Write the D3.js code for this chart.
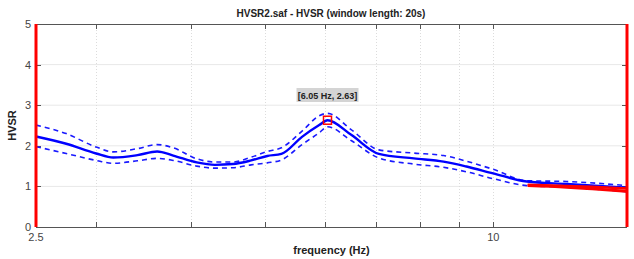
<!DOCTYPE html>
<html><head><meta charset="utf-8">
<script src="https://cdn.jsdelivr.net/npm/d3@7"></script>
<style>body{margin:0;background:#fff}svg{display:block}</style>
</head><body>
<script>
const freq  = [2.5, 2.74, 3.0, 3.16, 3.4, 3.61, 3.79, 4.07, 4.3, 4.54, 4.8, 5.04, 5.26, 5.6, 5.9, 6.05, 6.5, 7.07, 7.86, 8.6, 9.22, 10, 11.07, 12.49, 15];
const hvMean  = [2.23, 2.05, 1.81, 1.71, 1.77, 1.86, 1.76, 1.59, 1.53, 1.55, 1.64, 1.75, 1.80, 2.22, 2.51, 2.63, 2.27, 1.80, 1.69, 1.61, 1.49, 1.32, 1.12, 1.06, 0.97];
const hvUpper = [2.51, 2.30, 1.97, 1.85, 1.93, 2.03, 1.95, 1.68, 1.60, 1.60, 1.72, 1.86, 1.95, 2.36, 2.74, 2.80, 2.40, 1.90, 1.82, 1.76, 1.62, 1.42, 1.14, 1.12, 1.02];
const hvLower = [1.98, 1.81, 1.64, 1.57, 1.63, 1.69, 1.64, 1.50, 1.45, 1.46, 1.53, 1.58, 1.65, 2.03, 2.32, 2.47, 2.13, 1.70, 1.55, 1.47, 1.36, 1.19, 1.02, 0.98, 0.87];
const redFreq = [11.1, 12.5, 13.5, 15];
const redA = [1.02, 0.98, 0.94, 0.88];
const redB = [1.04, 1.01, 0.99, 0.95];
const peak = {f: 6.05, v: 2.63, label: "[6.05 Hz, 2.63]"};
const yTicks = [0, 1, 2, 3, 4, 5];
const xMinor = [3, 4, 5, 6, 7, 8, 9, 10];
const xLabels = [2.5, 10];
const title = "HVSR2.saf - HVSR (window length: 20s)";

const W = 634, H = 259;
const L = 36, R = 627, T = 24, B = 227;
const svg = d3.select("body").append("svg").attr("width", W).attr("height", H)
  .style("font-family", "'Liberation Sans', Arial, sans-serif");

const x = d3.scaleLog().domain([2.5, 15]).range([L, R]);
const y = d3.scaleLinear().domain([0, 5]).range([B, T]);

// grid
svg.append("g").selectAll("line").data([1,2,3,4]).join("line")
  .attr("x1", L).attr("x2", R).attr("y1", d => y(d)).attr("y2", d => y(d))
  .attr("stroke", "#e8e8e8").attr("stroke-width", 1);
svg.append("g").selectAll("line").data(xMinor).join("line")
  .attr("x1", d => Math.round(x(d))+0.5).attr("x2", d => Math.round(x(d))+0.5).attr("y1", T).attr("y2", B)
  .attr("stroke", "#dcdcdc").attr("stroke-width", 1).attr("stroke-dasharray", "1,2");

// frame
const ax = "#555";
svg.append("line").attr("x1", L).attr("x2", R).attr("y1", T+0.5).attr("y2", T+0.5).attr("stroke", ax);
svg.append("line").attr("x1", L).attr("x2", R).attr("y1", B+0.5).attr("y2", B+0.5).attr("stroke", ax);
// x ticks (bottom & top, inward)
svg.append("g").selectAll("line").data(xMinor).join("line")
  .attr("x1", d => Math.round(x(d))+0.5).attr("x2", d => Math.round(x(d))+0.5).attr("y1", B).attr("y2", B-5).attr("stroke", ax);
svg.append("g").selectAll("line").data(xMinor).join("line")
  .attr("x1", d => Math.round(x(d))+0.5).attr("x2", d => Math.round(x(d))+0.5).attr("y1", T).attr("y2", T+5).attr("stroke", ax);
// y ticks (left & right, inward)
svg.append("g").selectAll("line").data(yTicks).join("line")
  .attr("x1", L).attr("x2", L+5).attr("y1", d => Math.round(y(d))+0.5).attr("y2", d => Math.round(y(d))+0.5).attr("stroke", ax);
svg.append("g").selectAll("line").data(yTicks).join("line")
  .attr("x1", R-5).attr("x2", R).attr("y1", d => Math.round(y(d))+0.5).attr("y2", d => Math.round(y(d))+0.5).attr("stroke", ax);

// tick labels
svg.append("g").selectAll("text").data(yTicks).join("text")
  .attr("x", L-5).attr("y", d => y(d)+4).attr("text-anchor", "end")
  .attr("font-size", 11).attr("fill", "#444").text(d => d);
svg.append("g").selectAll("text").data(xLabels).join("text")
  .attr("x", d => x(d)).attr("y", B+14).attr("text-anchor", "middle")
  .attr("font-size", 11).attr("fill", "#444").text(d => d);

// axis titles
svg.append("text").attr("x", (L+R)/2).attr("y", 254).attr("text-anchor", "middle")
  .attr("font-size", 11).attr("font-weight", "bold").attr("fill", "#222").text("frequency (Hz)");
svg.append("text").attr("transform", `translate(16,${(T+B)/2}) rotate(-90)`).attr("text-anchor", "middle")
  .attr("font-size", 11).attr("font-weight", "bold").attr("fill", "#222").text("HVSR");
svg.append("text").attr("x", 331).attr("y", 17).attr("text-anchor", "middle")
  .attr("font-size", 10).attr("font-weight", "bold").attr("fill", "#222").text(title);

// curves
const line = d3.line().x(d => x(d[0])).y(d => y(d[1])).curve(d3.curveMonotoneX);
const zip = (a, b) => a.map((v, i) => [v, b[i]]);
const g = svg.append("g");
g.append("path").attr("d", line(zip(freq, hvUpper))).attr("fill", "none")
  .attr("stroke", "#1a1aff").attr("stroke-width", 1.6).attr("stroke-dasharray", "5,4");
g.append("path").attr("d", line(zip(freq, hvLower))).attr("fill", "none")
  .attr("stroke", "#1a1aff").attr("stroke-width", 1.6).attr("stroke-dasharray", "5,4");
g.append("path").attr("d", line(zip(freq, hvMean))).attr("fill", "none")
  .attr("stroke", "#0000ff").attr("stroke-width", 2.4);
g.append("path").attr("d", line(zip(redFreq, redA))).attr("fill", "none")
  .attr("stroke", "#ff0000").attr("stroke-width", 3);
g.append("path").attr("d", line(zip(redFreq, redB))).attr("fill", "none")
  .attr("stroke", "#ff0000").attr("stroke-width", 2.5);

// red vertical bounds
svg.append("line").attr("x1", L).attr("x2", L).attr("y1", T).attr("y2", B).attr("stroke", "#ff0000").attr("stroke-width", 3);
svg.append("line").attr("x1", R).attr("x2", R).attr("y1", T).attr("y2", B).attr("stroke", "#ff0000").attr("stroke-width", 3);

// peak marker
const px = x(peak.f), py = y(peak.v);
svg.append("rect").attr("x", px-4).attr("y", py-4).attr("width", 8).attr("height", 8)
  .attr("fill", "none").attr("stroke", "#ff0000").attr("stroke-width", 1.5);
const lbl = svg.append("g");
lbl.append("rect").attr("x", px-31).attr("y", 88).attr("width", 62).attr("height", 14).attr("fill", "#d4d4d4");
lbl.append("text").attr("x", px).attr("y", 98.5).attr("text-anchor", "middle")
  .attr("font-size", 9).attr("font-weight", "bold").attr("fill", "#222").text(peak.label);
</script>
</body></html>
